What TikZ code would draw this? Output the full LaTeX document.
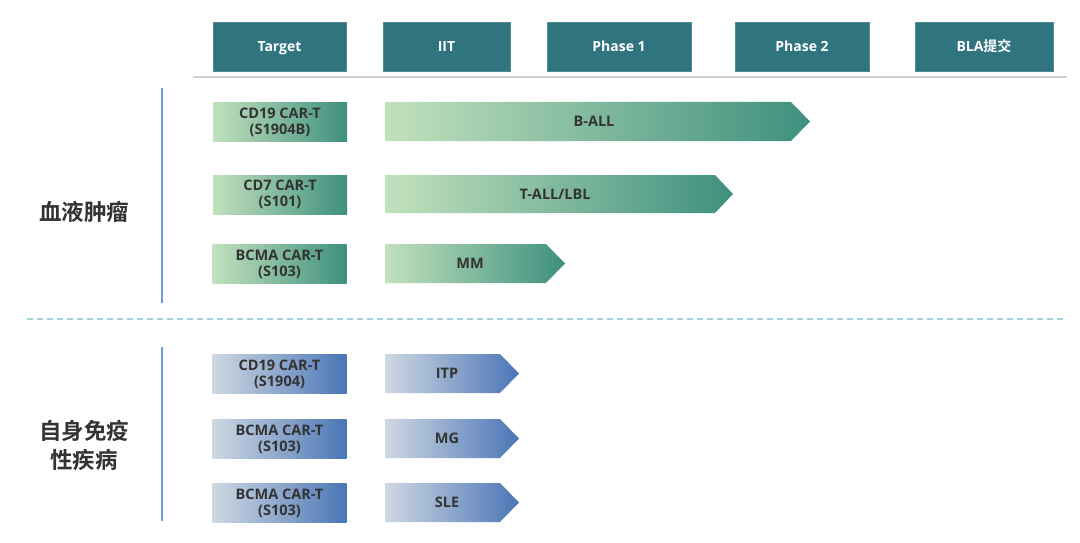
\documentclass[tikz,border=0pt]{standalone}
\usepackage{fontspec}
\setmainfont{Open Sans}
\newfontfamily\cjk{Noto Sans CJK SC}[BoldFont={Noto Sans CJK SC Bold}]
\usepackage{tikz}
\usetikzlibrary{positioning}

\definecolor{headteal}{HTML}{307480}
\definecolor{greenlight}{HTML}{C2E1BD}
\definecolor{greendark}{HTML}{3E907E}
\definecolor{bluelight}{HTML}{CFD8E2}
\definecolor{bluedark}{HTML}{4A76B6}
\definecolor{inktext}{HTML}{333333}
\definecolor{ruleblue}{HTML}{6E9BD5}
\definecolor{dashteal}{HTML}{A2D2DC}

\tikzset{
  headbox/.style={fill=headteal, draw=headteal!85!white, line width=0.6pt, minimum height=49pt,
    text height=10pt, text depth=0pt, text=white, font=\fontsize{14}{16}\selectfont\bfseries},
  greenbox/.style={left color=greenlight, right color=greendark, minimum width=134pt,
    minimum height=39pt, inner sep=1pt, align=center, text=inktext,
    font=\fontsize{14.5}{16}\selectfont\bfseries},
  bluebox/.style={greenbox, left color=bluelight, right color=bluedark},
  bartext/.style={text=inktext, text height=10.5pt, text depth=0pt, font=\fontsize{14.5}{16}\selectfont\bfseries},
  grouptext/.style={text=inktext, align=center, font=\cjk\fontsize{22.5}{29}\selectfont\bfseries}
}

\begin{document}
\begin{tikzpicture}[x=1pt,y=-1pt]
\useasboundingbox (0,0) rectangle (1080,543);
\fill[white] (0,0) rectangle (1080,543);

% column heads
\node[headbox, minimum width=133pt] (target) at (279.5,46.5) {Target};
\node[headbox, minimum width=127pt] (iit) at (446.5,46.5) {IIT};
\node[headbox, minimum width=144pt] (phaseone) at (619,46.5) {Phase 1};
\node[headbox, minimum width=134pt] (phasetwo) at (802,46.5) {Phase 2};
\node[headbox, minimum width=138pt] (bla) at (984,46.5) {BLA{\cjk 提交}};
\draw[black!18, line width=1.2pt] (193,77) -- (1067,77);

% group labels and rules
\node[grouptext] (blood) at (84,212) {血液肿瘤};
\node[grouptext] (immune) at (84,445) {自身免疫\\性疾病};
\draw[ruleblue, line width=1.6pt] (162,88) -- (162,303);
\draw[ruleblue, line width=1.6pt] (162,347) -- (162,521);
\draw[dashteal, line width=1.2pt, dash pattern=on 6pt off 4pt] (27,319) -- (1065,319);

% haematological programmes
\node[greenbox] (cdnineteen) at (280,122) {CD19 CAR-T\\(S1904B)};
\node[greenbox] (cdseven) at (280,194.5) {CD7 CAR-T\\(S101)};
\node[greenbox] (bcma) at (279.5,264) {BCMA CAR-T\\(S103)};

\shade[left color=greenlight, right color=greendark] (385,102) -- (791,102) -- (810,121.5) -- (791,141) -- (385,141) -- cycle;
\node[bartext] (ball) at (594,121.5) {B-ALL};

\shade[left color=greenlight, right color=greendark] (385,175) -- (715,175) -- (733,194) -- (715,213) -- (385,213) -- cycle;
\node[bartext] (tall) at (555,194) {T-ALL/LBL};

\shade[left color=greenlight, right color=greendark] (385,244) -- (546,244) -- (565,263.5) -- (546,283) -- (385,283) -- cycle;
\node[bartext] (mm) at (470,263.5) {MM};

% autoimmune programmes
\node[bluebox] (cdnineteenb) at (279.5,374) {CD19 CAR-T\\(S1904)};
\node[bluebox] (bcmab) at (279.5,439) {BCMA CAR-T\\(S103)};
\node[bluebox] (bcmac) at (279.5,503) {BCMA CAR-T\\(S103)};

\shade[left color=bluelight, right color=bluedark] (385,354) -- (500,354) -- (519,373.5) -- (500,393) -- (385,393) -- cycle;
\node[bartext] (itp) at (447,373.5) {ITP};

\shade[left color=bluelight, right color=bluedark] (385,419) -- (500,419) -- (519,438.5) -- (500,458) -- (385,458) -- cycle;
\node[bartext] (mg) at (447,438.5) {MG};

\shade[left color=bluelight, right color=bluedark] (385,483) -- (500,483) -- (519,502.5) -- (500,522) -- (385,522) -- cycle;
\node[bartext] (sle) at (447,502.5) {SLE};

\end{tikzpicture}
\end{document}
